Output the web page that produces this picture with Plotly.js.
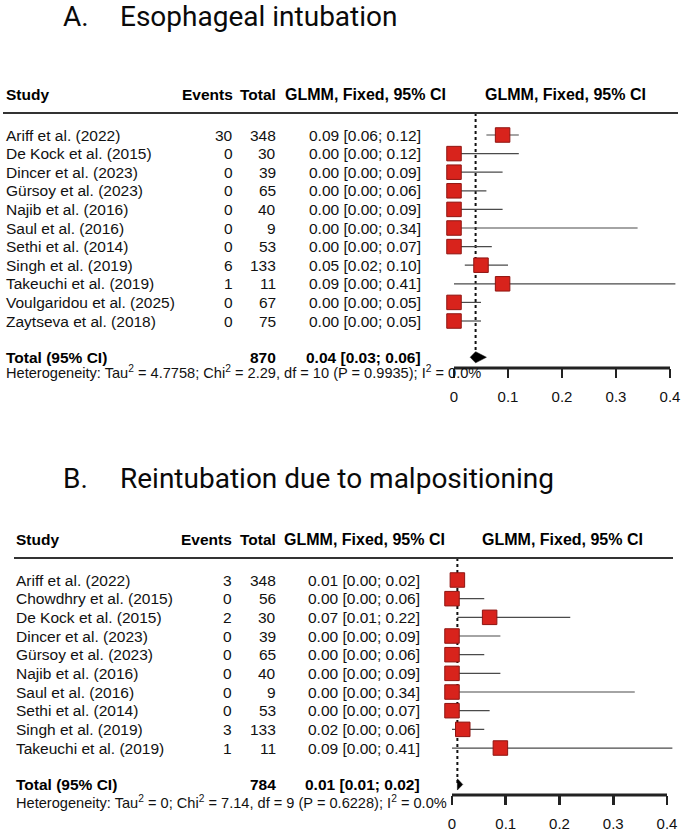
<!DOCTYPE html>
<html><head><meta charset="utf-8">
<script src="https://cdn.plot.ly/plotly-3.0.1.min.js"></script>
<style>html,body{margin:0;padding:0;background:#fff}#chart{width:685px;height:834px}</style>
</head><body><div id="chart"></div>
<script>
// ---------------- DATA ----------------
// Panel A: Esophageal intubation
const titleLetterA = "A.";
const titleTextA = "Esophageal intubation";
const studiesA = ["Ariff et al. (2022)", "De Kock et al. (2015)", "Dincer et al. (2023)", "Gürsoy et al. (2023)", "Najib et al. (2016)", "Saul et al. (2016)", "Sethi et al. (2014)", "Singh et al. (2019)", "Takeuchi et al. (2019)", "Voulgaridou et al. (2025)", "Zaytseva et al. (2018)"];
const eventsA = [30, 0, 0, 0, 0, 0, 0, 6, 1, 0, 0];
const totalsA = [348, 30, 39, 65, 40, 9, 53, 133, 11, 67, 75];
const estA = [0.09, 0.00, 0.00, 0.00, 0.00, 0.00, 0.00, 0.05, 0.09, 0.00, 0.00];
const loA  = [0.06, 0.00, 0.00, 0.00, 0.00, 0.00, 0.00, 0.02, 0.00, 0.00, 0.00];
const hiA  = [0.12, 0.12, 0.09, 0.06, 0.09, 0.34, 0.07, 0.10, 0.41, 0.05, 0.05];
const pooledA = [0.04, 0.03, 0.06];      // estimate, lower, upper
const pooledTotalA = 870;
const hetA = ["4.7758", "2.29", "10", "0.9935", "0.0%"]; // Tau2, Chi2, df, P, I2

// Panel B: Reintubation due to malpositioning
const titleLetterB = "B.";
const titleTextB = "Reintubation due to malpositioning";
const studiesB = ["Ariff et al. (2022)", "Chowdhry et al. (2015)", "De Kock et al. (2015)", "Dincer et al. (2023)", "Gürsoy et al. (2023)", "Najib et al. (2016)", "Saul et al. (2016)", "Sethi et al. (2014)", "Singh et al. (2019)", "Takeuchi et al. (2019)"];
const eventsB = [3, 0, 2, 0, 0, 0, 0, 0, 3, 1];
const totalsB = [348, 56, 30, 39, 65, 40, 9, 53, 133, 11];
const estB = [0.01, 0.00, 0.07, 0.00, 0.00, 0.00, 0.00, 0.00, 0.02, 0.09];
const loB  = [0.00, 0.00, 0.01, 0.00, 0.00, 0.00, 0.00, 0.00, 0.00, 0.00];
const hiB  = [0.02, 0.06, 0.22, 0.09, 0.06, 0.09, 0.34, 0.07, 0.06, 0.41];
const pooledB = [0.01, 0.01, 0.02];
const pooledTotalB = 784;
const hetB = ["0", "7.14", "9", "0.6228", "0.0%"];

const headers = ["Study", "Events", "Total", "GLMM, Fixed, 95% CI"];
const tickVals = [0, 0.1, 0.2, 0.3, 0.4];
const tickText = ["0", "0.1", "0.2", "0.3", "0.4"];

// ---------------- LAYOUT ----------------
const W = 685, H = 834;
const px = v => v / W;
const py = v => 1 - v / H;
const TXT = "Arial, 'Liberation Sans', Helvetica, sans-serif";
const TITLEF = "Roboto, 'Open Sans', sans-serif";
const fmt = v => v.toFixed(2);
const AXC = "#222222";

const panels = [
  {sfx: "", studies: studiesA, events: eventsA, totals: totalsA, est: estA, lo: loA, hi: hiA,
   pooled: pooledA, pooledTotal: pooledTotalA, het: hetA, letter: titleLetterA, title: titleTextA,
   titleY: 17, headY: 95, lineY: 113, lineX0: 3, lineX1: 678, firstRowY: 135, pitch: 18.6,
   axisY: 368, hetY: 372, studyX: 4, eventsX: 235, totalX: 278, ciX: 423, ciHeadX: 366, plotHeadX: 565,
   zeroX: 454, fortyX: 670, endX: 680},
  {sfx: "2", studies: studiesB, events: eventsB, totals: totalsB, est: estB, lo: loB, hi: hiB,
   pooled: pooledB, pooledTotal: pooledTotalB, het: hetB, letter: titleLetterB, title: titleTextB,
   titleY: 478, headY: 539, lineY: 558, lineX0: 14, lineX1: 673, firstRowY: 580, pitch: 18.67,
   axisY: 795, hetY: 802, studyX: 14, eventsX: 234, totalX: 278, ciX: 422, ciHeadX: 364, plotHeadX: 562,
   zeroX: 452, fortyX: 667, endX: 680}
];

const traces = [], annotations = [], shapes = [];
const layout = {
  width: W, height: H, margin: {l: 0, r: 0, t: 0, b: 0},
  paper_bgcolor: "#fff", plot_bgcolor: "rgba(0,0,0,0)", showlegend: false,
  font: {family: TXT, color: "#111"}
};

panels.forEach(p => {
  const n = p.studies.length;
  const totalRow = n + 1.95;
  const rowOf = y => 1 + (y - p.firstRowY) / p.pitch;
  const xa = "x" + p.sfx, ya = "y" + p.sfx;
  const pxPerUnit = (p.fortyX - p.zeroX) / 0.4;
  const domBottom = p.axisY + 12;

  layout["xaxis" + p.sfx] = {
    domain: [px(p.zeroX), px(p.endX)], range: [0, (p.endX - p.zeroX) / pxPerUnit],
    anchor: "free", position: py(p.axisY), showline: false, showgrid: false, zeroline: false,
    ticks: "outside", ticklen: 9, tickwidth: 2.6, tickcolor: AXC,
    tickvals: tickVals, ticktext: tickText, ticklabelstandoff: 6,
    tickfont: {family: TXT, size: 15, color: "#111"}, fixedrange: true
  };
  layout["yaxis" + p.sfx] = {
    domain: [py(domBottom), py(p.lineY)], range: [rowOf(domBottom), rowOf(p.lineY)],
    anchor: xa, visible: false, fixedrange: true
  };

  const rows = p.studies.map((_, i) => i + 1);

  // pooled reference dotted line
  traces.push({type: "scatter", mode: "lines", xaxis: xa, yaxis: ya, hoverinfo: "skip",
    x: [p.pooled[0], p.pooled[0]], y: [rowOf(p.lineY), totalRow],
    line: {color: "#111", width: 2, dash: "dot"}});

  // CI whiskers
  const cx = [], cy = [];
  rows.forEach((r, i) => { cx.push(p.lo[i], p.hi[i], null); cy.push(r, r, null); });
  traces.push({type: "scatter", mode: "lines", xaxis: xa, yaxis: ya, hoverinfo: "skip",
    x: cx, y: cy, line: {color: "#4a4a4a", width: 1.2}});

  // study squares
  traces.push({type: "scatter", mode: "markers", xaxis: xa, yaxis: ya, cliponaxis: false,
    x: p.est, y: rows,
    marker: {symbol: "square", size: 14.5, color: "#d8231c", line: {color: "#8e1410", width: 1}}});

  // pooled diamond
  const dh = 0.3;
  traces.push({type: "scatter", mode: "lines", xaxis: xa, yaxis: ya, fill: "toself",
    fillcolor: "#000", line: {color: "#000", width: 0.5}, hoverinfo: "skip",
    x: [p.pooled[1], p.pooled[0], p.pooled[2], p.pooled[0], p.pooled[1]],
    y: [totalRow, totalRow - dh, totalRow, totalRow + dh, totalRow]});

  // axis line from 0 to 0.4
  traces.push({type: "scatter", mode: "lines", xaxis: xa, yaxis: ya, hoverinfo: "skip",
    x: [tickVals[0], tickVals[tickVals.length - 1]], y: [rowOf(p.axisY), rowOf(p.axisY)],
    line: {color: AXC, width: 3}});

  // header rule
  shapes.push({type: "line", xref: "paper", yref: "paper", x0: px(p.lineX0), x1: px(p.lineX1),
    y0: py(p.lineY), y1: py(p.lineY), line: {color: "#333", width: 2}});

  const fRow = {family: TXT, size: 15.5, color: "#111"};
  const fBold = {family: TXT, size: 15.5, color: "#000", weight: "bold"};
  const fHead = {family: TXT, size: 16, color: "#000", weight: "bold"};

  // titles
  annotations.push({xref: "paper", yref: "paper", x: px(61), y: py(p.titleY), xanchor: "left", yanchor: "middle",
    text: p.letter, showarrow: false, font: {family: TITLEF, size: 28, color: "#0a0a0a"}});
  annotations.push({xref: "paper", yref: "paper", x: px(118), y: py(p.titleY), xanchor: "left", yanchor: "middle",
    text: p.title, showarrow: false, font: {family: TITLEF, size: 28, color: "#0a0a0a"}});

  // headers
  const hy = py(p.headY);
  annotations.push({xref: "paper", yref: "paper", x: px(p.studyX), y: hy, xanchor: "left", yanchor: "middle", text: "<b>" + headers[0] + "</b>", showarrow: false, font: fBold});
  annotations.push({xref: "paper", yref: "paper", x: px(p.eventsX), y: hy, xanchor: "right", yanchor: "middle", text: "<b>" + headers[1] + "</b>", showarrow: false, font: fBold});
  annotations.push({xref: "paper", yref: "paper", x: px(p.totalX), y: hy, xanchor: "right", yanchor: "middle", text: "<b>" + headers[2] + "</b>", showarrow: false, font: fBold});
  annotations.push({xref: "paper", yref: "paper", x: px(p.ciHeadX), y: hy, xanchor: "center", yanchor: "middle", text: "<b>" + headers[3] + "</b>", showarrow: false, font: fHead});
  annotations.push({xref: "paper", yref: "paper", x: px(p.plotHeadX), y: hy, xanchor: "center", yanchor: "middle", text: "<b>" + headers[3] + "</b>", showarrow: false, font: fHead});

  // study rows
  rows.forEach((r, i) => {
    const base = {xref: "paper", yref: ya, y: r, yanchor: "middle", showarrow: false, font: fRow};
    annotations.push(Object.assign({}, base, {x: px(p.studyX), xanchor: "left", text: p.studies[i]}));
    annotations.push(Object.assign({}, base, {x: px(p.eventsX), xanchor: "right", text: String(p.events[i])}));
    annotations.push(Object.assign({}, base, {x: px(p.totalX), xanchor: "right", text: String(p.totals[i])}));
    annotations.push(Object.assign({}, base, {x: px(p.ciX), xanchor: "right",
      text: fmt(p.est[i]) + " [" + fmt(p.lo[i]) + "; " + fmt(p.hi[i]) + "]"}));
  });

  // total row
  const tb = {xref: "paper", yref: ya, y: totalRow, yanchor: "middle", showarrow: false, font: fBold};
  annotations.push(Object.assign({}, tb, {x: px(p.studyX), xanchor: "left", text: "<b>Total (95% CI)</b>"}));
  annotations.push(Object.assign({}, tb, {x: px(p.totalX), xanchor: "right", text: "<b>" + p.pooledTotal + "</b>"}));
  annotations.push(Object.assign({}, tb, {x: px(p.ciX), xanchor: "right",
    text: "<b>" + fmt(p.pooled[0]) + " [" + fmt(p.pooled[1]) + "; " + fmt(p.pooled[2]) + "]</b>"}));

  // heterogeneity
  annotations.push({xref: "paper", yref: "paper", x: px(p.studyX), y: py(p.hetY), xanchor: "left", yanchor: "middle", showarrow: false,
    font: {family: TXT, size: 14.6, color: "#111"},
    text: "Heterogeneity: Tau<sup>2</sup> = " + p.het[0] + "; Chi<sup>2</sup> = " + p.het[1] + ", df = " + p.het[2] +
          " (P = " + p.het[3] + "); I<sup>2</sup> = " + p.het[4]});
});

layout.annotations = annotations;
layout.shapes = shapes;
Plotly.newPlot("chart", traces, layout, {displayModeBar: false, staticPlot: true});
</script>
</body></html>
